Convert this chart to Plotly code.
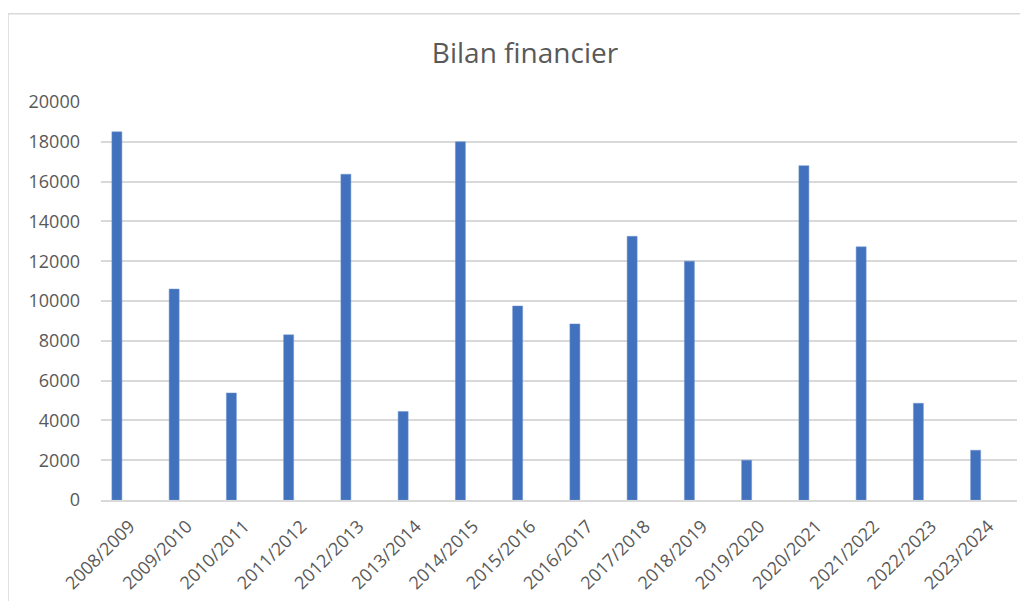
import plotly.graph_objects as go

categories = ["2008/2009", "2009/2010", "2010/2011", "2011/2012", "2012/2013", "2013/2014",
              "2014/2015", "2015/2016", "2016/2017", "2017/2018", "2018/2019", "2019/2020",
              "2020/2021", "2021/2022", "2022/2023", "2023/2024"]
values = [18500, 10600, 5380, 8300, 16370, 4450, 18000, 9750, 8850, 13250, 12000, 2000,
          16800, 12720, 4860, 2500]
y_ticks = [0, 2000, 4000, 6000, 8000, 10000, 12000, 14000, 16000, 18000, 20000]

# page body has an 8px margin: figure coordinates = screen - 8
W, H = 1012, 593
L, T = 93, 93.5
R = W - 1009
B = H - 492.5
pw = W - L - R
ph = H - T - B

fig = go.Figure()
fig.add_trace(go.Bar(
    x=categories, y=values,
    marker=dict(color="#4272BD", line=dict(color="#6f94d0", width=0.5)),
    width=0.175, offset=-0.31,
    showlegend=False,
))

txt = "#595959"
fnt = "'Open Sans', Lato, sans-serif"
fig.update_layout(
    width=W, height=H,
    margin=dict(l=L, r=R, t=T, b=B, autoexpand=False),
    paper_bgcolor="white", plot_bgcolor="white",
    font=dict(family=fnt, color=txt, size=18),
    title=dict(text="Bilan financier", x=517 / W, xanchor="center", xref="container",
               y=1 - 45 / H, yanchor="middle", yref="container",
               font=dict(size=28, color=txt, family=fnt)),
    xaxis=dict(tickangle=-45, showgrid=False, showline=True, linecolor="#d9d9d9",
               linewidth=1.5, ticks="", ticklabelstandoff=7,
               tickfont=dict(size=18, color=txt)),
    yaxis=dict(range=[0, 20000], tickvals=y_ticks, ticktext=[str(v) for v in y_ticks],
               showgrid=True, gridcolor="#d9d9d9", gridwidth=1.5, zeroline=False,
               ticks="", ticklabelstandoff=20, tickfont=dict(size=18, color=txt)),
    shapes=[dict(type="rect", xref="paper", yref="paper",
                 x0=(0 - L) / pw, x1=(W + 30 - L) / pw,
                 y0=-(H + 30 - T - ph) / ph, y1=(T - 5) / ph + 1,
                 line=dict(color="#d9d9d9", width=1.5), fillcolor="rgba(0,0,0,0)")],
)

fig.write_html("out.html")
